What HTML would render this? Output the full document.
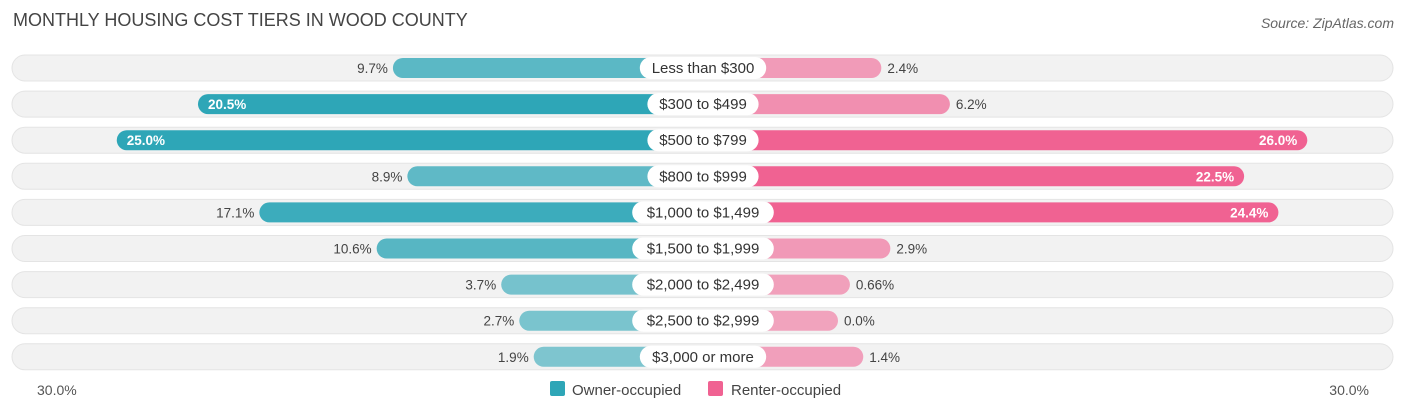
<!DOCTYPE html>
<html><head><meta charset="utf-8"><style>
body{margin:0;width:1406px;height:414px;background:#fff;font-family:"Liberation Sans",sans-serif;overflow:hidden;position:relative}
.t{position:absolute;left:13px;top:10px;font-size:18px;color:#444}
.s{position:absolute;right:12px;top:15px;font-size:14px;color:#666;font-style:italic}
</style></head><body>
<div class="t">MONTHLY HOUSING COST TIERS IN WOOD COUNTY</div>
<div class="s">Source: ZipAtlas.com</div>
<svg id="c" width="1406" height="414" style="position:absolute;left:0;top:0"></svg>
<script>
const categories=["Less than $300","$300 to $499","$500 to $799","$800 to $999","$1,000 to $1,499","$1,500 to $1,999","$2,000 to $2,499","$2,500 to $2,999","$3,000 or more"];
const owner=[9.7,20.5,25.0,8.9,17.1,10.6,3.7,2.7,1.9];
const renter=[2.4,6.2,26.0,22.5,24.4,2.9,0.66,0.0,1.4];
const ownerLabels=["9.7%","20.5%","25.0%","8.9%","17.1%","10.6%","3.7%","2.7%","1.9%"];
const renterLabels=["2.4%","6.2%","26.0%","22.5%","24.4%","2.9%","0.66%","0.0%","1.4%"];
const svg=document.getElementById('c');const NS="http://www.w3.org/2000/svg";
const cx=703,off=135,k=18.05;
const xL=v=>cx-off-k*v, xR=v=>cx+off+k*v, yC=i=>68+i*36.1;
function mk(t,a,p){const e=document.createElementNS(NS,t);for(const n in a)e.setAttribute(n,a[n]);(p||svg).appendChild(e);return e;}
categories.forEach((c,i)=>{
 const y=yC(i);
 const bg=mk('rect',{x:12,y:y-13,width:1381,height:26,rx:13,fill:'#f2f2f2',stroke:'#e4e4e4'});
 
 const oa=0.55+0.45*Math.min(owner[i]/20,1), ra=0.55+0.45*Math.min(renter[i]/20,1);
 const ob=mk('rect',{x:xL(owner[i]),y:y-10,width:cx-xL(owner[i]),height:20,rx:10,fill:'#2ea6b7','fill-opacity':oa});
 
 const rb=mk('rect',{x:cx,y:y-10,width:xR(renter[i])-cx,height:20,rx:10,fill:'#f06292','fill-opacity':ra});
 
 const lw=c.length*7.6+20;
 const lb=mk('rect',{x:cx-lw/2,y:y-11,width:lw,height:22,rx:11,fill:'#fff'});
 
 const ct=mk('text',{x:cx,y:y+5,'text-anchor':'middle','font-size':15,fill:'#333'});ct.textContent=c;
 
 const oin=owner[i]>15&&owner[i]>=20;
 const ot=mk('text',{x:oin?xL(owner[i])+10:xL(owner[i])-5,y:y+5,'text-anchor':oin?'start':'end','font-size':13.5,fill:oin?'#fff':'#444','font-weight':oin?'bold':'normal'});ot.textContent=ownerLabels[i];
 
 const rin=renter[i]>=20;
 const rt=mk('text',{x:rin?xR(renter[i])-10:xR(renter[i])+6,y:y+5,'text-anchor':rin?'end':'start','font-size':13.5,fill:rin?'#fff':'#444','font-weight':rin?'bold':'normal'});rt.textContent=renterLabels[i];
 
});
const a1=mk('text',{x:37,y:395,'font-size':14,fill:'#555'});a1.textContent="30.0%";

const a2=mk('text',{x:1369,y:395,'font-size':14,fill:'#555','text-anchor':'end'});a2.textContent="30.0%";

const l1=mk('rect',{x:550,y:381,width:15,height:15,rx:2,fill:'#2ea6b7'});

const t1=mk('text',{x:572,y:395,'font-size':15,fill:'#444'});t1.textContent="Owner-occupied";

const l2=mk('rect',{x:708,y:381,width:15,height:15,rx:2,fill:'#f06292'});

const t2=mk('text',{x:731,y:395,'font-size':15,fill:'#444'});t2.textContent="Renter-occupied";

</script>
</body></html>
